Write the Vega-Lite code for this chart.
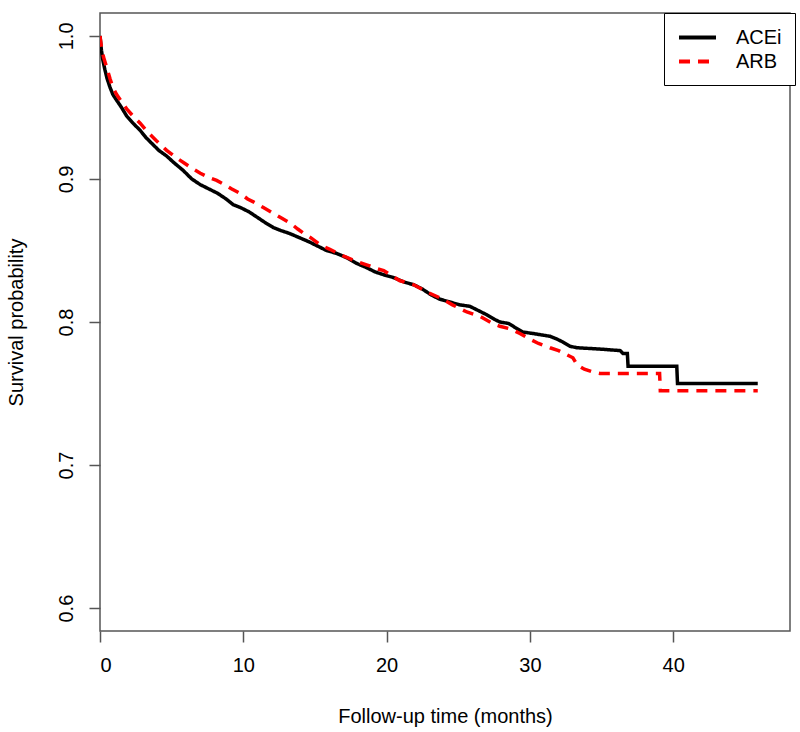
{
  "$schema": "https://vega.github.io/schema/vega-lite/v6.json",
  "width": 690,
  "height": 618,
  "autosize": {"type": "none"},
  "padding": {"left": 100, "top": 13, "right": 10, "bottom": 101},
  "background": "white",
  "config": {
    "font": "Liberation Sans",
    "view": {"stroke": "#555555", "strokeWidth": 1.5},
    "axis": {
      "domain": false,
      "grid": false,
      "tickColor": "#555555",
      "tickWidth": 1.5,
      "tickSize": 11,
      "labelFont": "Liberation Sans",
      "labelFontSize": 20,
      "labelColor": "black",
      "titleFont": "Liberation Sans",
      "titleFontSize": 20,
      "titleFontWeight": "normal",
      "titleColor": "black"
    }
  },
  "data": {
    "values": [
      {"t": 0, "s": 1.0, "g": "ACEi"},
      {"t": 0.1, "s": 0.99, "g": "ACEi"},
      {"t": 0.2, "s": 0.983, "g": "ACEi"},
      {"t": 0.35, "s": 0.976, "g": "ACEi"},
      {"t": 0.5, "s": 0.97, "g": "ACEi"},
      {"t": 0.7, "s": 0.964, "g": "ACEi"},
      {"t": 0.9, "s": 0.959, "g": "ACEi"},
      {"t": 1.16, "s": 0.955, "g": "ACEi"},
      {"t": 1.5, "s": 0.95, "g": "ACEi"},
      {"t": 1.86, "s": 0.944, "g": "ACEi"},
      {"t": 2.3, "s": 0.939, "g": "ACEi"},
      {"t": 2.8, "s": 0.934, "g": "ACEi"},
      {"t": 3.2, "s": 0.929, "g": "ACEi"},
      {"t": 3.6, "s": 0.925, "g": "ACEi"},
      {"t": 4.1, "s": 0.92, "g": "ACEi"},
      {"t": 4.65, "s": 0.916, "g": "ACEi"},
      {"t": 5.2, "s": 0.911, "g": "ACEi"},
      {"t": 5.8, "s": 0.906, "g": "ACEi"},
      {"t": 6.4, "s": 0.9, "g": "ACEi"},
      {"t": 7.0, "s": 0.896, "g": "ACEi"},
      {"t": 7.6, "s": 0.893, "g": "ACEi"},
      {"t": 8.2, "s": 0.89, "g": "ACEi"},
      {"t": 8.8, "s": 0.886, "g": "ACEi"},
      {"t": 9.3, "s": 0.882, "g": "ACEi"},
      {"t": 9.8, "s": 0.88, "g": "ACEi"},
      {"t": 10.4, "s": 0.877, "g": "ACEi"},
      {"t": 11.0, "s": 0.873, "g": "ACEi"},
      {"t": 11.6, "s": 0.869, "g": "ACEi"},
      {"t": 12.1, "s": 0.866, "g": "ACEi"},
      {"t": 12.6, "s": 0.864, "g": "ACEi"},
      {"t": 13.2, "s": 0.862, "g": "ACEi"},
      {"t": 13.9, "s": 0.859, "g": "ACEi"},
      {"t": 14.6, "s": 0.856, "g": "ACEi"},
      {"t": 15.2, "s": 0.853, "g": "ACEi"},
      {"t": 15.8, "s": 0.85, "g": "ACEi"},
      {"t": 16.5, "s": 0.848, "g": "ACEi"},
      {"t": 17.2, "s": 0.845, "g": "ACEi"},
      {"t": 17.9, "s": 0.841, "g": "ACEi"},
      {"t": 18.6, "s": 0.838, "g": "ACEi"},
      {"t": 19.2, "s": 0.835, "g": "ACEi"},
      {"t": 19.8, "s": 0.833, "g": "ACEi"},
      {"t": 20.5, "s": 0.831, "g": "ACEi"},
      {"t": 21.2, "s": 0.828, "g": "ACEi"},
      {"t": 21.9, "s": 0.826, "g": "ACEi"},
      {"t": 22.5, "s": 0.823, "g": "ACEi"},
      {"t": 23.1, "s": 0.819, "g": "ACEi"},
      {"t": 23.7, "s": 0.816, "g": "ACEi"},
      {"t": 24.4, "s": 0.814, "g": "ACEi"},
      {"t": 25.1, "s": 0.812, "g": "ACEi"},
      {"t": 25.8, "s": 0.811, "g": "ACEi"},
      {"t": 26.4, "s": 0.808, "g": "ACEi"},
      {"t": 27.0, "s": 0.805, "g": "ACEi"},
      {"t": 27.5, "s": 0.802, "g": "ACEi"},
      {"t": 27.9, "s": 0.8, "g": "ACEi"},
      {"t": 28.5, "s": 0.799, "g": "ACEi"},
      {"t": 29.0, "s": 0.796, "g": "ACEi"},
      {"t": 29.5, "s": 0.793, "g": "ACEi"},
      {"t": 30.2, "s": 0.792, "g": "ACEi"},
      {"t": 30.8, "s": 0.791, "g": "ACEi"},
      {"t": 31.4, "s": 0.79, "g": "ACEi"},
      {"t": 31.9, "s": 0.788, "g": "ACEi"},
      {"t": 32.3, "s": 0.786, "g": "ACEi"},
      {"t": 32.8, "s": 0.783, "g": "ACEi"},
      {"t": 33.3, "s": 0.782, "g": "ACEi"},
      {"t": 35.0, "s": 0.781, "g": "ACEi"},
      {"t": 36.3, "s": 0.78, "g": "ACEi"},
      {"t": 36.5, "s": 0.778, "g": "ACEi"},
      {"t": 36.8, "s": 0.778, "g": "ACEi"},
      {"t": 36.85, "s": 0.769, "g": "ACEi"},
      {"t": 40.25, "s": 0.769, "g": "ACEi"},
      {"t": 40.3, "s": 0.757, "g": "ACEi"},
      {"t": 45.9, "s": 0.757, "g": "ACEi"},
      {"t": 0, "s": 1.0, "g": "ARB"},
      {"t": 0.1, "s": 0.992, "g": "ARB"},
      {"t": 0.25, "s": 0.985, "g": "ARB"},
      {"t": 0.47, "s": 0.978, "g": "ARB"},
      {"t": 0.7, "s": 0.97, "g": "ARB"},
      {"t": 0.9, "s": 0.964, "g": "ARB"},
      {"t": 1.16, "s": 0.959, "g": "ARB"},
      {"t": 1.5, "s": 0.954, "g": "ARB"},
      {"t": 1.86, "s": 0.949, "g": "ARB"},
      {"t": 2.3, "s": 0.944, "g": "ARB"},
      {"t": 2.8, "s": 0.939, "g": "ARB"},
      {"t": 3.3, "s": 0.933, "g": "ARB"},
      {"t": 3.9, "s": 0.927, "g": "ARB"},
      {"t": 4.65, "s": 0.92, "g": "ARB"},
      {"t": 5.3, "s": 0.915, "g": "ARB"},
      {"t": 5.9, "s": 0.911, "g": "ARB"},
      {"t": 6.5, "s": 0.907, "g": "ARB"},
      {"t": 7.0, "s": 0.904, "g": "ARB"},
      {"t": 7.6, "s": 0.901, "g": "ARB"},
      {"t": 8.14, "s": 0.899, "g": "ARB"},
      {"t": 8.7, "s": 0.896, "g": "ARB"},
      {"t": 9.2, "s": 0.893, "g": "ARB"},
      {"t": 9.77, "s": 0.89, "g": "ARB"},
      {"t": 10.3, "s": 0.886, "g": "ARB"},
      {"t": 10.7, "s": 0.884, "g": "ARB"},
      {"t": 11.4, "s": 0.88, "g": "ARB"},
      {"t": 12.1, "s": 0.876, "g": "ARB"},
      {"t": 12.6, "s": 0.873, "g": "ARB"},
      {"t": 13.3, "s": 0.869, "g": "ARB"},
      {"t": 13.8, "s": 0.865, "g": "ARB"},
      {"t": 14.2, "s": 0.862, "g": "ARB"},
      {"t": 14.7, "s": 0.859, "g": "ARB"},
      {"t": 15.35, "s": 0.854, "g": "ARB"},
      {"t": 16.0, "s": 0.851, "g": "ARB"},
      {"t": 16.8, "s": 0.847, "g": "ARB"},
      {"t": 17.7, "s": 0.843, "g": "ARB"},
      {"t": 18.6, "s": 0.84, "g": "ARB"},
      {"t": 19.4, "s": 0.837, "g": "ARB"},
      {"t": 19.8, "s": 0.836, "g": "ARB"},
      {"t": 20.4, "s": 0.832, "g": "ARB"},
      {"t": 20.9, "s": 0.829, "g": "ARB"},
      {"t": 21.9, "s": 0.826, "g": "ARB"},
      {"t": 22.8, "s": 0.821, "g": "ARB"},
      {"t": 23.7, "s": 0.817, "g": "ARB"},
      {"t": 24.6, "s": 0.812, "g": "ARB"},
      {"t": 25.6, "s": 0.807, "g": "ARB"},
      {"t": 26.5, "s": 0.804, "g": "ARB"},
      {"t": 27.4, "s": 0.799, "g": "ARB"},
      {"t": 27.9, "s": 0.797, "g": "ARB"},
      {"t": 28.7, "s": 0.795, "g": "ARB"},
      {"t": 29.3, "s": 0.792, "g": "ARB"},
      {"t": 30.0, "s": 0.788, "g": "ARB"},
      {"t": 30.6, "s": 0.785, "g": "ARB"},
      {"t": 31.4, "s": 0.782, "g": "ARB"},
      {"t": 32.0, "s": 0.78, "g": "ARB"},
      {"t": 32.6, "s": 0.777, "g": "ARB"},
      {"t": 33.0, "s": 0.775, "g": "ARB"},
      {"t": 33.3, "s": 0.77, "g": "ARB"},
      {"t": 33.8, "s": 0.767, "g": "ARB"},
      {"t": 34.4, "s": 0.765, "g": "ARB"},
      {"t": 34.9, "s": 0.764, "g": "ARB"},
      {"t": 39.05, "s": 0.764, "g": "ARB"},
      {"t": 39.1, "s": 0.752, "g": "ARB"},
      {"t": 45.9, "s": 0.752, "g": "ARB"}
    ]
  },
  "mark": {"type": "line", "interpolate": "linear", "strokeWidth": 3.5, "clip": true},
  "encoding": {
    "x": {
      "field": "t",
      "type": "quantitative",
      "scale": {"domain": [0, 48.15], "nice": false, "zero": false},
      "axis": {
        "values": [0, 10, 20, 30, 40],
        "labelPadding": 13,
        "title": "Follow-up time (months)",
        "titleY": 91,
        "titleBaseline": "alphabetic"
      }
    },
    "y": {
      "field": "s",
      "type": "quantitative",
      "scale": {"domain": [0.584, 1.016], "nice": false, "zero": false},
      "axis": {
        "values": [0.6, 0.7, 0.8, 0.9, 1.0],
        "format": ".1f",
        "labelAngle": -90,
        "labelAlign": "center",
        "labelBaseline": "bottom",
        "labelPadding": 13,
        "title": "Survival probability",
        "titleX": -84,
        "titleY": 309,
        "titleAngle": -90,
        "titleAlign": "center",
        "titleBaseline": "middle"
      }
    },
    "color": {
      "field": "g",
      "type": "nominal",
      "scale": {"domain": ["ACEi", "ARB"], "range": ["#000000", "#ff0000"]},
      "legend": {
        "orient": "none",
        "legendX": 564,
        "legendY": 0,
        "title": null,
        "strokeColor": "#000000",
        "fillColor": "white",
        "padding": 13,
        "symbolType": "M-2,0H2",
        "symbolSize": 342,
        "symbolOffset": 9,
        "symbolStrokeWidth": 4,
        "labelFontSize": 20,
        "labelFont": "Liberation Sans",
        "labelColor": "black",
        "labelOffset": 27,
        "rowPadding": 2
      }
    },
    "strokeDash": {
      "field": "g",
      "type": "nominal",
      "scale": {"domain": ["ACEi", "ARB"], "range": [[1, 0], [11, 8]]}
    }
  }
}
